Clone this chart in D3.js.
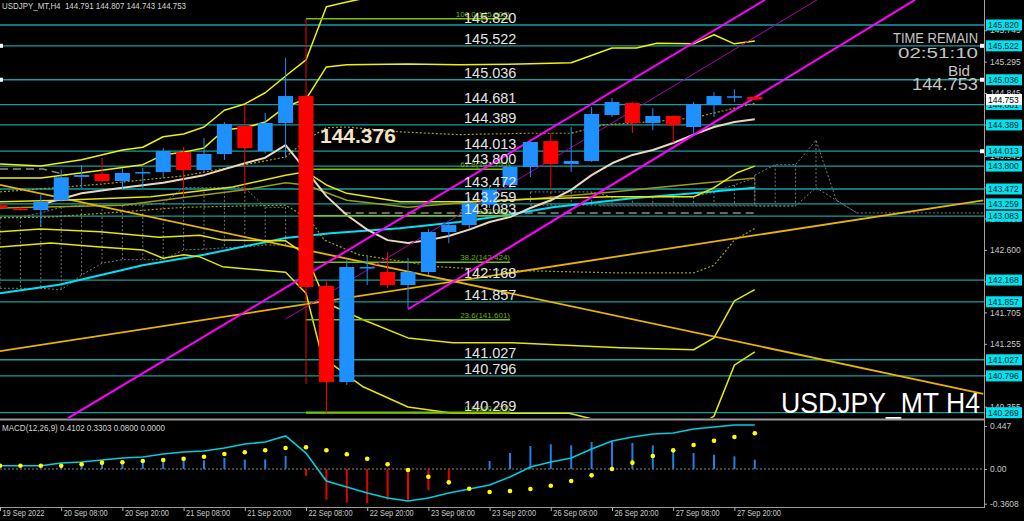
<!DOCTYPE html>
<html><head><meta charset="utf-8">
<script src="https://cdn.jsdelivr.net/npm/d3@7"></script>
<style>
html,body{margin:0;padding:0;background:#000;overflow:hidden}
svg{display:block;font-family:"Liberation Sans",Arial,sans-serif}
</style></head><body>
<svg id="c" width="1024" height="521"></svg>
<script>
// ---------- DATA ----------
const opens  = [143.24,143.19,143.17,143.31,143.645,143.687,143.586,143.70,143.715,144.0,143.744,143.973,144.374,144.016,144.417,144.803,142.083,140.708,142.34,142.283,142.097,142.283,142.856,142.956,143.25,143.529,143.787,144.159,143.83,143.873,144.531,144.703,144.417,144.517,144.359,144.675,144.79,144.791];
const highs  = [143.26,143.21,143.39,143.75,143.815,143.916,143.772,143.772,144.059,144.073,144.202,144.43,144.675,144.56,145.35,145.906,142.17,142.455,142.498,142.57,142.484,142.90,143.0,143.35,143.50,143.82,144.16,144.274,144.359,144.646,144.775,144.72,144.63,144.53,144.717,144.86,144.90,144.807];
const lows   = [143.18,143.16,142.93,143.29,143.486,143.57,143.47,143.486,143.629,143.37,143.715,143.887,143.414,143.98,143.916,140.68,140.264,140.665,142.097,142.054,141.768,142.24,142.699,142.90,143.20,143.47,143.644,143.457,143.715,143.86,144.503,144.274,144.317,144.13,144.245,144.503,144.717,144.743];
const closes = [143.20,143.18,143.29,143.64,143.672,143.586,143.701,143.715,144.016,143.744,143.973,144.402,144.059,144.417,144.803,142.069,140.708,142.355,142.355,142.097,142.283,142.856,142.956,143.271,143.46,143.787,144.145,143.83,143.873,144.546,144.717,144.417,144.517,144.388,144.689,144.803,144.80,144.753];

const macdLine = [0.034,0.034,0.034,0.062,0.073,0.094,0.114,0.125,0.156,0.177,0.187,0.218,0.26,0.28,0.343,0.166,-0.125,-0.187,-0.249,-0.302,-0.333,-0.302,-0.249,-0.208,-0.166,-0.083,0.021,0.073,0.114,0.208,0.291,0.333,0.364,0.374,0.416,0.437,0.457,0.457];
const macdSignal = [0.034,0.034,0.034,0.034,0.049,0.066,0.07,0.083,0.094,0.107,0.128,0.156,0.174,0.195,0.218,0.226,0.195,0.153,0.107,0.049,-0.01,-0.081,-0.139,-0.205,-0.239,-0.229,-0.208,-0.174,-0.125,-0.066,0.0,0.066,0.135,0.194,0.249,0.293,0.333,0.371];
const macdHist = [0,0,0.003,0.038,0.055,0.065,0.073,0.09,0.104,0.114,0.09,0.114,0.097,0.1,0.135,-0.07,-0.319,-0.35,-0.357,-0.319,-0.325,-0.221,-0.125,-0.007,0.083,0.166,0.239,0.257,0.246,0.281,0.291,0.27,0.246,0.187,0.166,0.149,0.132,0.097];

const levels = [145.820,145.522,145.036,144.681,144.389,144.013,143.800,143.472,143.259,143.083,142.168,141.857,141.027,140.796,140.269];
const priceTicks = [145.745,145.295,144.845,144.395,143.945,143.495,143.050,142.600,142.150,141.705,141.255,140.805,140.355];
const macdTicks = [0.447,0,-0.3608];
const macdTickLabels = ["0.447","0.00","-0.3608"];
const dateK = [0,3,6,9,12,15,18,21,24,27,30,33,36];
const dateLabels = ["19 Sep 2022","20 Sep 08:00","20 Sep 20:00","21 Sep 08:00","21 Sep 20:00","22 Sep 08:00","22 Sep 20:00","23 Sep 08:00","23 Sep 20:00","26 Sep 08:00","26 Sep 20:00","27 Sep 08:00","27 Sep 20:00"];

const fibVals = [145.908,143.755,143.090,142.424,141.601,140.271];
const fibNames = ["100.0","61.8","50.0","38.2","23.6","0.0"];
const fibSpan = [15,25];

const bandUpperOuter = [[0,143.83],[2,143.80],[4,143.89],[6,144.03],[7,144.07],[8,144.22],[9,144.26],[10,144.36],[11,144.60],[12,144.69],[13,144.85],[14,145.09],[15,145.32],[16,146.08],[17,146.15],[18,146.21],[19,146.29]];
const bandUpperInner = [[0,143.63],[2,143.63],[5,143.74],[7,143.82],[8,143.96],[9,144.00],[10,144.06],[11,144.32],[12,144.35],[13,144.43],[14,144.65],[15,144.76],[16,145.22],[17,145.25],[20,145.26],[22.5,145.25],[25.5,145.26],[28,145.28],[30,145.49],[31.2,145.49],[32.2,145.56],[34,145.55],[35,145.68],[36,145.55],[37,145.59]];
const bandMid = [[0,143.29],[3,143.31],[7.4,143.36],[11.4,143.50],[14,143.67],[15,143.72],[16,143.53],[17,143.41],[19.6,143.29],[22.9,143.29],[26.1,143.33],[29.9,143.36],[34,143.36],[35,143.49],[36.1,143.70],[37,143.80]];
const oliveLine = [[0,143.20],[6,143.24],[12,143.46],[14,143.56],[15,143.53],[17,143.31],[20,143.21],[22.5,143.27],[26,143.33],[30,143.43],[37,143.63]];
const bandLowerInner = [[0,142.86],[2,142.90],[4.9,142.86],[7.8,142.78],[9.8,142.81],[10.9,142.74],[14,142.73],[15,142.53],[16,141.84],[17.8,141.60],[20,141.34],[22.2,141.27],[25.1,141.27],[30.4,141.20],[34,141.17],[35,141.34],[36,141.87],[37,142.03]];
const bandLowerOuter = [[0,142.64],[2.5,142.70],[4.9,142.64],[7,142.60],[8,142.48],[9,142.53],[9.8,142.50],[10.9,142.36],[14,142.28],[15,141.98],[15.7,141.17],[16.2,140.98],[17.8,140.64],[20,140.35],[22.2,140.26],[25.1,140.26],[27.9,140.26],[29.3,140.16],[31.9,140.05],[34.3,140.09],[35,140.22],[36,140.95],[37,141.14]];
const maBeige = [[2,143.25],[4,143.41],[6,143.49],[8,143.56],[10,143.67],[12,143.84],[13,143.92],[14,144.10],[15,143.74],[16,143.37],[17,143.10],[18,142.89],[19,142.74],[20,142.70],[21,142.74],[22,142.80],[23,142.89],[24,143.00],[25,143.07],[26,143.20],[27,143.31],[28,143.46],[29,143.67],[30,143.84],[31,143.96],[32,144.03],[33,144.13],[34,144.25],[35,144.36],[36,144.43],[37,144.47]];
const maCyan = [[0,141.98],[2.9,142.10],[7,142.38],[10,142.53],[14,142.77],[16.2,142.84],[19.6,142.91],[22.5,143.00],[24.2,143.07],[27.1,143.21],[31,143.34],[34,143.41],[37,143.49]];
const dottedUpper = [[0,143.43],[4.9,143.54],[9,143.66],[12,143.82],[14,143.93],[15,144.17],[16,144.35],[17,144.36],[19.6,144.29],[22.5,144.25],[25.8,144.27],[28,144.27],[29.6,144.39],[31.7,144.43],[34,144.49],[37,144.70]];
const dottedLower = [[0,143.06],[2.5,143.07],[9,143.21],[14,143.24],[15.2,143.03],[15.9,142.74],[17.6,142.53],[21.4,142.36],[24.5,142.31],[30.4,142.27],[34,142.27],[35,142.38],[36,142.74],[37,142.91]];
const dashLeft = [[0,143.76],[2.1,143.76],[3.3,143.67]];
const dashRight = [[16.8,143.13],[37,143.13]];
const trendDown = [[0,143.53],[48.2,140.54]];
const trendUp = [[0,141.15],[48.2,143.31]];
const channelUpper = [[3.33,140.19],[37.5,146.18]];
const channelMid = [[14,141.61],[40.05,146.18]];
const channelLower = [[20,141.75],[44.85,146.18]];

const cloudAStart = 0;
const cloudAUp = [143.06,143.07,143.13,143.21,143.24,143.24,143.24,143.24,143.27,143.49,143.49,143.49,143.49,143.21,143.21];
const cloudALo = [142.05,142.05,142.05,142.03,142.24,142.41,142.46,142.46,142.46,142.60,142.61,142.63,142.64,142.67,142.67];
const cloudBStart = 26;
const cloudBUp = [143.43,143.43,143.43,143.43,143.36,143.36,143.36,143.36,143.36,143.43,143.53,143.63];
const cloudBLo = [143.24,143.24,143.24,143.24,143.24,143.24,143.24,143.24,143.24,143.24,143.24,143.24];
const cloudCStart = 37;
const cloudCUp = [143.67,143.82,143.82,144.17,143.31,143.13];
const cloudCLo = [143.23,143.23,143.23,143.49,143.31,143.13];
const cloudCTail = [[42,143.13],[48.3,143.13]];
const cloudCBase = [[29.4,143.23],[39,143.23]];

const lastPrice = 144.753;
const label376 = 144.376;

// ---------- DRAW ----------
const svg = d3.select("#c");
svg.append("rect").attr("width",1024).attr("height",521).attr("fill","#000");
const W = 984;
const x = d3.scaleLinear().domain([0,37]).range([0,754.8]);
const y = d3.scaleLinear().domain([140.269,145.820]).range([412.7,25]);
const ym = d3.scaleLinear().domain([-0.3608,0.447]).range([503.7,426]);

const defs = svg.append("defs");
defs.append("clipPath").attr("id","cm").append("rect").attr("x",0).attr("y",0).attr("width",W).attr("height",418);
defs.append("clipPath").attr("id","cd").append("rect").attr("x",0).attr("y",421).attr("width",W).attr("height",85);

const main = svg.append("g").attr("clip-path","url(#cm)");
const lg = d3.line().x(d=>x(d[0])).y(d=>y(d[1]));

// level lines
main.selectAll("line.lvl").data(levels).join("line")
  .attr("x1",0).attr("x2",W).attr("y1",d=>y(d)).attr("y2",d=>y(d))
  .attr("stroke","#12a0a2").attr("stroke-width",1.3);

// clouds (dotted)
function cloud(start, up, lo){
  const g = main.append("g").attr("stroke","#7a7a7a").attr("stroke-width",1).attr("stroke-dasharray","2,2").attr("fill","none");
  g.append("path").attr("d", lg(up.map((v,i)=>[start+i,v])));
  g.append("path").attr("d", lg(lo.map((v,i)=>[start+i,v])));
  up.forEach((v,i)=>{ g.append("line").attr("x1",x(start+i)).attr("x2",x(start+i)).attr("y1",y(v)).attr("y2",y(lo[i])); });
}
cloud(cloudAStart, cloudAUp, cloudALo);
cloud(cloudBStart, cloudBUp, cloudBLo);
cloud(cloudCStart, cloudCUp, cloudCLo);
main.append("path").attr("d",lg(cloudCTail)).attr("stroke","#7a7a7a").attr("stroke-dasharray","2,2").attr("fill","none");
main.append("path").attr("d",lg(cloudCBase)).attr("stroke","#7a7a7a").attr("stroke-dasharray","2,2").attr("fill","none");

function path(data, color, w, dash){
  const p = main.append("path").attr("d",lg(data)).attr("fill","none").attr("stroke",color).attr("stroke-width",w).attr("stroke-linejoin","round");
  if (dash) p.attr("stroke-dasharray",dash);
  return p;
}
path(dashLeft, "#8c8c8c", 1.5, "8,5");
path(dashRight, "#8c8c8c", 1.5, "8,5");
path(dottedLower, "#a3a300", 1.2, "2,2");
path(dottedUpper, "#a3a300", 1.2, "2,2");
path(oliveLine, "#9c9c10", 1.5);
path(maCyan, "#00e1f5", 2);
path(trendDown, "#e8b400", 1.8);
path(trendUp, "#e8b400", 1.8);
path(bandUpperOuter, "#f2f200", 1.5);
path(bandUpperInner, "#f2f200", 1.5);
path(bandMid, "#e6e600", 1.5);
path(bandLowerInner, "#e6e600", 1.5);
path(bandLowerOuter, "#e6e600", 1.5);
path(maBeige, "#ead7bd", 2);

// fib
const fg = main.append("g");
fg.selectAll("line").data(fibVals).join("line")
  .attr("x1",x(fibSpan[0])).attr("x2",x(fibSpan[1])).attr("y1",d=>y(d)).attr("y2",d=>y(d))
  .attr("stroke","#7cc200").attr("stroke-width",(d,i)=>i===fibVals.length-1?2.2:1.5);
fg.selectAll("text").data(fibVals).join("text")
  .attr("x",x(fibSpan[1])).attr("y",d=>y(d)-2).attr("text-anchor","end")
  .attr("font-size","8px").attr("fill","#6db000")
  .text((d,i)=>`${fibNames[i]}(${d.toFixed(3)})`);

// channel
path(channelUpper, "#ff00ff", 2);
path(channelMid, "#b000b0", 1);
path(channelLower, "#ff00ff", 2);

// candles
const candles = opens.map((o,i)=>({k:i,o,h:highs[i],l:lows[i],c:closes[i]}));
const cg = main.append("g");
candles.forEach(d=>{
  const col = d.c >= d.o ? "#1e90ff" : "#ff0000";
  cg.append("line").attr("x1",x(d.k)).attr("x2",x(d.k)).attr("y1",y(d.h)).attr("y2",y(d.l)).attr("stroke",col).attr("stroke-width",1);
  const top = y(Math.max(d.o,d.c)), bot = y(Math.min(d.o,d.c));
  cg.append("rect").attr("x",x(d.k)-7.5).attr("width",15).attr("y",top).attr("height",Math.max(1.5,bot-top)).attr("fill",col);
});

// level text labels
main.selectAll("text.lv").data(levels).join("text").attr("class","lv")
  .attr("x",464).attr("y",d=>y(d)-2).attr("fill","#e4e4e4").attr("font-size","14.5px")
  .text(d=>d.toFixed(3));
main.append("text").attr("x",320).attr("y",y(label376)+17).attr("fill","#f3e4c6")
  .attr("font-size","21px").attr("font-weight","bold").text(label376.toFixed(3));

// markers
[145.522,145.036].forEach(v=>{ svg.append("rect").attr("x",0).attr("y",y(v)-2).attr("width",3).attr("height",4).attr("fill","#fff"); });
[145.522,145.036,144.013].forEach(v=>{ svg.append("rect").attr("x",980).attr("y",y(v)-2).attr("width",4).attr("height",4).attr("fill","#fff"); });

// Right-side texts
function fixed(txt, xx, yy, size, len, anchor, color){
  svg.append("text").attr("x",xx).attr("y",yy).attr("font-size",size).attr("fill",color||"#c4c4c4")
    .attr("text-anchor",anchor||"end").attr("textLength",len).attr("lengthAdjust","spacingAndGlyphs").text(txt);
}
fixed("TIME REMAIN", 978, 43, "15px", 85);
fixed("02:51:10", 978, 57.5, "15px", 80);
fixed("Bid", 970, 76, "15px", 22);
fixed(lastPrice.toFixed(3), 978, 89.5, "16.5px", 66);
fixed("USDJPY_MT H4", 980, 413, "29px", 199, "end", "#ffffff");

// ---------- MACD ----------
const md = svg.append("g").attr("clip-path","url(#cd)");
md.append("line").attr("x1",0).attr("x2",W).attr("y1",ym(0)).attr("y2",ym(0)).attr("stroke","#8a8a8a").attr("stroke-dasharray","2,2");
md.selectAll("line.h").data(macdHist).join("line").attr("class","h")
  .attr("x1",(d,i)=>x(i)).attr("x2",(d,i)=>x(i)).attr("y1",ym(0)).attr("y2",d=>ym(d))
  .attr("stroke",d=>d>=0?"#1e7fe6":"#e60000").attr("stroke-width",2);
md.append("path").datum(macdLine).attr("d",d3.line().x((d,i)=>x(i)).y(d=>ym(d)))
  .attr("fill","none").attr("stroke","#00cde0").attr("stroke-width",1.6);
md.selectAll("circle").data(macdSignal).join("circle").attr("cx",(d,i)=>x(i)).attr("cy",d=>ym(d)).attr("r",2.3).attr("fill","#ffff00");

// ---------- frame ----------
svg.append("line").attr("x1",0).attr("x2",W).attr("y1",419.5).attr("y2",419.5).attr("stroke","#9a9a9a").attr("stroke-width",2);
svg.append("line").attr("x1",0).attr("x2",W+1).attr("y1",507.5).attr("y2",507.5).attr("stroke","#9a9a9a").attr("stroke-width",1.2);
svg.append("line").attr("x1",W+0.5).attr("x2",W+0.5).attr("y1",0).attr("y2",508).attr("stroke","#a0a0a0").attr("stroke-width",1);

// right price axis
const ax = svg.append("g").attr("transform",`translate(${W},0)`)
  .call(d3.axisRight(y).tickValues(priceTicks).tickSize(3).tickPadding(3).tickFormat(d3.format(".3f")));
ax.select(".domain").remove();
ax.selectAll("line").attr("stroke","#b0b0b0");
ax.selectAll("text").attr("fill","#c8c8c8").attr("font-size","8.5px").attr("font-family","Liberation Sans, Arial, sans-serif");

// level boxes on axis
const lb = svg.append("g");
levels.forEach(v=>{
  lb.append("rect").attr("x",986).attr("y",y(v)-5.5).attr("width",36).attr("height",11).attr("fill","#00e4f0");
  lb.append("text").attr("x",988).attr("y",y(v)+3.2).attr("font-size","8.5px").attr("fill","#00202a").text(v.toFixed(3));
});
lb.append("rect").attr("x",986).attr("y",y(lastPrice)-5.5).attr("width",36).attr("height",11).attr("fill","#ffffff");
lb.append("text").attr("x",988).attr("y",y(lastPrice)+3.2).attr("font-size","8.5px").attr("fill","#000").text(lastPrice.toFixed(3));

// MACD axis
const mx = svg.append("g").attr("transform",`translate(${W},0)`)
  .call(d3.axisRight(ym).tickValues(macdTicks).tickSize(3).tickPadding(3).tickFormat((d,i)=>macdTickLabels[i]));
mx.select(".domain").remove();
mx.selectAll("line").attr("stroke","#b0b0b0");
mx.selectAll("text").attr("fill","#c8c8c8").attr("font-size","8.5px").attr("font-family","Liberation Sans, Arial, sans-serif");

// bottom time axis
const bx = svg.append("g").attr("transform","translate(0,507)")
  .call(d3.axisBottom(x).tickValues(dateK).tickSize(4).tickFormat((d,i)=>dateLabels[i]));
bx.select(".domain").remove();
bx.selectAll("line").attr("stroke","#b0b0b0");
bx.selectAll("text").attr("fill","#c8c8c8").attr("font-size","8.5px").attr("font-family","Liberation Sans, Arial, sans-serif")
  .attr("text-anchor","start").attr("x",2).attr("dy","0.55em").attr("y",4)
  .each(function(){ const w=this.getComputedTextLength(); d3.select(this).attr("textLength",w*0.87).attr("lengthAdjust","spacingAndGlyphs"); });

// legends
svg.append("text").attr("x",2).attr("y",9).attr("font-size","9px").attr("fill","#d4d4d4").style("white-space","pre")
  .attr("textLength",184).attr("lengthAdjust","spacingAndGlyphs").text("USDJPY_MT,H4  144.791 144.807 144.743 144.753");
svg.append("text").attr("x",2).attr("y",430.5).attr("font-size","9px").attr("fill","#d4d4d4")
  .attr("textLength",163).attr("lengthAdjust","spacingAndGlyphs").text("MACD(12,26,9) 0.4102 0.3303 0.0800 0.0000");
</script>
</body></html>
